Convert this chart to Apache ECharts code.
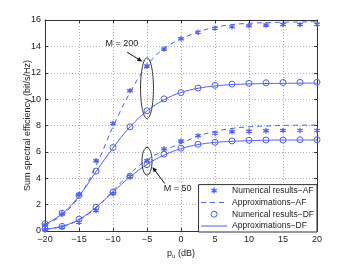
<!DOCTYPE html>
<html><head><meta charset="utf-8">
<script src="https://cdn.jsdelivr.net/npm/echarts@6/dist/echarts.min.js"></script>
<style>html,body{margin:0;padding:0;background:#fff}#c{width:350px;height:264px}</style>
</head><body><div id="c"></div>
<script>
const pu = [-20,-17.5,-15,-12.5,-10,-7.5,-5,-2.5,0,2.5,5,7.5,10,12.5,15,17.5,20];
const numAF200 = [0.45,1.3,2.75,5.33,8.15,10.64,12.51,13.8,14.58,15.08,15.38,15.48,15.57,15.62,15.66,15.66,15.68];
const approxAF200 = [0.45,1.2,2.6,4.95,7.9,10.5,12.55,13.85,14.55,15.1,15.45,15.65,15.75,15.8,15.83,15.85,15.87];
const numDF200 = [0.55,1.35,2.7,4.54,6.33,7.9,9.12,10.02,10.49,10.84,11.05,11.14,11.2,11.24,11.26,11.27,11.28];
const approxDF200 = [0.5,1.3,2.65,4.5,6.3,7.9,9.1,9.95,10.5,10.82,11.0,11.1,11.15,11.18,11.2,11.21,11.22];
const numAF50 = [0.1,0.28,0.67,1.55,2.84,4.16,5.33,6.23,6.83,7.23,7.4,7.52,7.57,7.6,7.62,7.63,7.63];
const approxAF50 = [0.12,0.33,0.85,1.75,3.05,4.35,5.4,6.1,6.65,7.2,7.55,7.78,7.9,7.96,8.0,8.02,8.03];
const numDF50 = [0.17,0.35,0.9,1.8,2.95,4.16,5.03,5.83,6.28,6.58,6.73,6.83,6.88,6.9,6.9,6.92,6.92];
const approxDF50 = [0.15,0.35,0.88,1.8,2.95,4.1,5.05,5.75,6.25,6.55,6.72,6.8,6.85,6.88,6.9,6.9,6.9];
const xTicks = [-20,-15,-10,-5,0,5,10,15,20];
const yTicks = [0,2,4,6,8,10,12,14,16];
const names = ['Numerical results\u2212AF','Approximations\u2212AF','Numerical results\u2212DF','Approximations\u2212DF'];

const BLUE = '#4f5fff';
const FONT = 'Liberation Sans, Arial, sans-serif';
const zip = (a) => pu.map((x,i)=>[x,a[i]]);
const star = 'path://M0,-10L0,10M-8.7,-5L8.7,5M-8.7,5L8.7,-5';

const chart = echarts.init(document.getElementById('c'), null, {renderer:'canvas'});
const axCommon = {
  axisLine:{show:true,onZero:false,lineStyle:{color:'#333',width:1}},
  axisTick:{show:true,inside:true,length:3,lineStyle:{color:'#333'}},
};
const hide = {color:'rgba(0,0,0,0)',borderColor:'rgba(0,0,0,0)',borderWidth:0};
chart.setOption({
  animation:false,
  backgroundColor:'#fff',
  grid:{left:45,right:33,top:20,bottom:30},
  xAxis:[
    Object.assign({type:'value',min:-20,max:20,interval:5,position:'bottom',
      name:'{p|p}{s|u} (dB)',nameLocation:'middle',nameGap:17,nameMoveOverlap:false,
      nameTextStyle:{fontSize:9,fontFamily:FONT,color:'#222',rich:{p:{fontSize:9,fontFamily:FONT,color:'#222'},s:{fontSize:6,fontFamily:FONT,color:'#222',verticalAlign:'bottom',padding:[5,0,0,0]}}},
      axisLabel:{fontSize:9,fontFamily:FONT,color:'#222',margin:4,formatter:v=>xTicks.includes(v)?String(v).replace('-','\u2212'):''},
      splitLine:{show:true,lineStyle:{color:'#b0b0b0',type:[1,2],width:1}}},axCommon),
    Object.assign({type:'value',min:-20,max:20,interval:5,position:'top',axisLabel:{show:false},splitLine:{show:false}},axCommon)
  ],
  yAxis:[
    Object.assign({type:'value',min:0,max:16,interval:2,position:'left',
      name:'Sum spectral efficiency (bit/s/Hz)',nameLocation:'middle',nameGap:13,nameMoveOverlap:false,
      nameTextStyle:{fontSize:9,fontFamily:FONT,color:'#222'},
      axisLabel:{fontSize:9,fontFamily:FONT,color:'#222',margin:4,formatter:v=>yTicks.includes(v)?String(v):''},
      splitLine:{show:true,lineStyle:{color:'#b0b0b0',type:[1,2],width:1}}},axCommon),
    Object.assign({type:'value',min:0,max:16,interval:2,position:'right',axisLabel:{show:false},splitLine:{show:false}},axCommon)
  ],
  legend:{
    orient:'vertical',right:33,bottom:32,selectedMode:false,
    padding:[1,3,1,2],itemWidth:26,itemHeight:6,itemGap:1.8,
    borderColor:'#333',borderWidth:1,borderRadius:0,backgroundColor:'#fff',
    textStyle:{fontSize:8.5,fontFamily:FONT,color:'#222',lineHeight:10},
    data:[
      {name:names[0],itemStyle:{borderWidth:1.3}},
      {name:names[1],itemStyle:hide,lineStyle:{width:1,type:[5,4]}},
      {name:names[2],itemStyle:{borderWidth:1}},
      {name:names[3],itemStyle:hide,lineStyle:{width:1}}
    ]
  },
  series:[
    {name:names[1],type:'line',data:zip(approxAF200),smooth:0.4,symbol:'none',lineStyle:{color:BLUE,width:1,type:[5,4]},itemStyle:{color:BLUE},z:2},
    {name:names[1],type:'line',data:zip(approxAF50),smooth:0.4,symbol:'none',lineStyle:{color:BLUE,width:1,type:[5,4]},itemStyle:{color:BLUE},z:2},
    {name:names[3],type:'line',data:zip(approxDF200),smooth:0.4,symbol:'none',lineStyle:{color:BLUE,width:1},itemStyle:{color:BLUE},z:2},
    {name:names[3],type:'line',data:zip(approxDF50),smooth:0.4,symbol:'none',lineStyle:{color:BLUE,width:1},itemStyle:{color:BLUE},z:2},
    {name:names[0],type:'scatter',data:zip(numAF200),symbol:star,symbolSize:5.5,itemStyle:{color:BLUE,borderColor:BLUE,borderWidth:1.3,opacity:1},z:3},
    {name:names[0],type:'scatter',data:zip(numAF50),symbol:star,symbolSize:5.5,itemStyle:{color:BLUE,borderColor:BLUE,borderWidth:1.3,opacity:1},z:3},
    {name:names[2],type:'scatter',data:zip(numDF200),symbol:'circle',symbolSize:6,itemStyle:{color:'rgba(0,0,0,0)',borderColor:BLUE,borderWidth:1,opacity:1},z:3},
    {name:names[2],type:'scatter',data:zip(numDF50),symbol:'circle',symbolSize:6,itemStyle:{color:'rgba(0,0,0,0)',borderColor:BLUE,borderWidth:1,opacity:1},z:3}
  ]
});

// annotations (positioned in data coordinates)
const P = (x,y)=>chart.convertToPixel({xAxisIndex:0,yAxisIndex:0},[x,y]);
const ann = [
  {label:'M = 200', text:[-8.7,14.2], from:[-7.9,13.55], to:[-5.7,12.85], ell:[-5,10.83,0.95,2.3]},
  {label:'M = 50', text:[-0.5,3.2], from:[-2.4,3.6], to:[-4.2,4.85], ell:[-5,5.29,0.74,1.05]}
];
const g = [];
ann.forEach(a=>{
  const c = P(a.ell[0],a.ell[1]);
  const e = P(a.ell[0]+a.ell[2],a.ell[1]+a.ell[3]);
  g.push({type:'ellipse',shape:{cx:c[0],cy:c[1],rx:Math.abs(e[0]-c[0]),ry:Math.abs(e[1]-c[1])},style:{fill:'none',stroke:'#333',lineWidth:1},z:10});
  const f = P(a.from[0],a.from[1]), t = P(a.to[0],a.to[1]);
  const ang = Math.atan2(t[1]-f[1],t[0]-f[0]);
  const L=5, W=2.2;
  const bx = t[0]-L*Math.cos(ang), by = t[1]-L*Math.sin(ang);
  g.push({type:'line',shape:{x1:f[0],y1:f[1],x2:bx,y2:by},style:{stroke:'#111',lineWidth:1},z:10});
  g.push({type:'polygon',shape:{points:[[t[0],t[1]],[bx+W*Math.sin(ang),by-W*Math.cos(ang)],[bx-W*Math.sin(ang),by+W*Math.cos(ang)]]},style:{fill:'#111'},z:10});
  const tp = P(a.text[0],a.text[1]);
  g.push({type:'text',x:tp[0],y:tp[1],style:{text:a.label,fontSize:9,fontFamily:FONT,fill:'#222',align:'center',verticalAlign:'middle'},z:10});
});
chart.setOption({graphic:g});
</script></body></html>
